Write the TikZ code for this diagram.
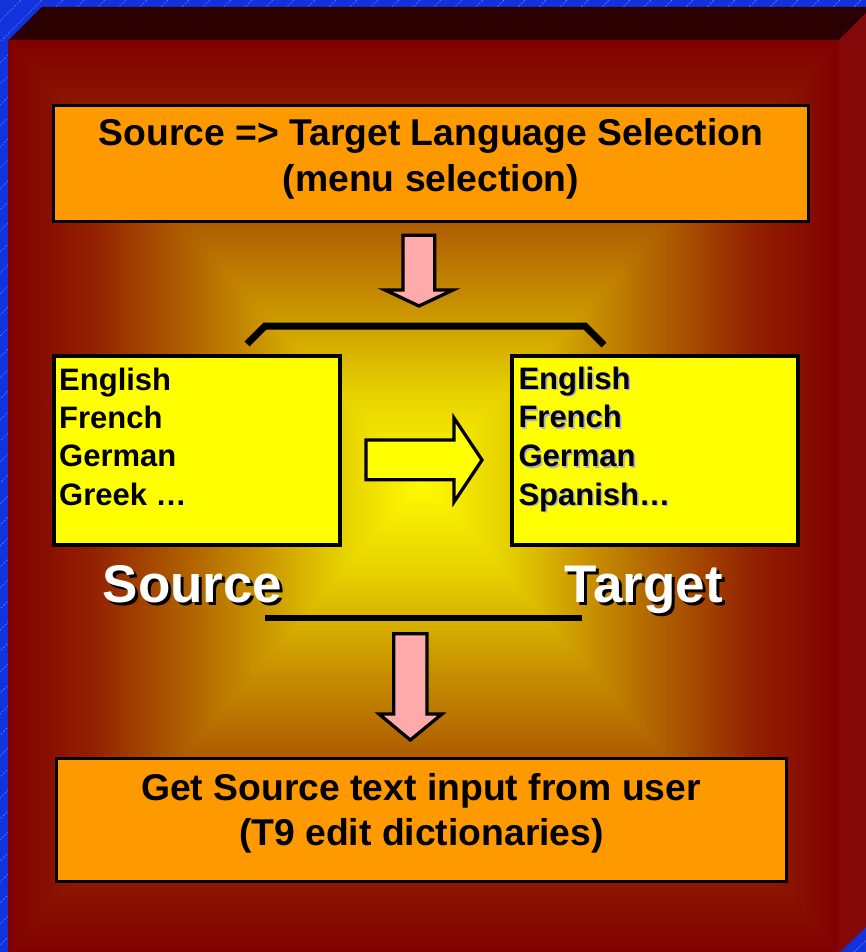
\documentclass[tikz,border=0pt]{standalone}
\usepackage{fontspec}
\setmainfont{Liberation Sans}

\definecolor{slideblue}{RGB}{18,50,220}
\definecolor{hatchblue}{RGB}{95,125,245}
\definecolor{bevtop}{RGB}{42,0,0}
\definecolor{bevside}{RGB}{132,8,8}
\definecolor{fc0}{RGB}{255,252,0}
\definecolor{fc1}{RGB}{230,208,0}
\definecolor{fc2}{RGB}{200,145,0}
\definecolor{fc3}{RGB}{172,88,0}
\definecolor{fc4}{RGB}{146,32,0}
\definecolor{fc5}{RGB}{128,0,0}
\definecolor{boxorange}{RGB}{255,153,0}
\definecolor{boxyellow}{RGB}{255,255,0}
\definecolor{arrowpink}{RGB}{255,170,170}
\definecolor{shadowgray}{RGB}{175,175,200}

% rectangular glow of the slide face, one quarter at a time
\pgfdeclareverticalshading{facefill}{100bp}{color(0bp)=(fc0); color(25bp)=(fc0); color(35bp)=(fc1); color(45bp)=(fc2); color(55bp)=(fc3); color(65bp)=(fc4); color(75bp)=(fc5); color(100bp)=(fc5)}
\pgfdeclareradialshading{faceglow}{\pgfpoint{0bp}{0bp}}{color(0bp)=(fc0); color(5bp)=(fc1); color(10bp)=(fc2); color(15bp)=(fc3); color(20bp)=(fc4); color(25bp)=(fc5); color(50bp)=(fc5)}

% text with a drop shadow behind it
\newcommand\shadowed[3]{\rlap{\hspace{#2}\raisebox{-#2}{\textcolor{#1}{#3}}}#3}

\tikzset{
  menubox/.style={draw, line width=3.3pt, fill=boxorange, inner sep=0pt},
  langbox/.style={draw, line width=4pt, fill=boxyellow, inner sep=0pt, minimum width=286pt, minimum height=189pt},
  boxtext/.style={font=\fontsize{37.3}{45}\selectfont\bfseries, inner sep=0pt, anchor=base},
  langtext/.style={font=\fontsize{31}{38}\selectfont\bfseries, inner sep=0pt, anchor=base west},
  bigtext/.style={font=\fontsize{53}{60}\selectfont\bfseries, inner sep=0pt, anchor=base, text=white},
  blockarrow/.style={draw, line width=3.3pt, line join=miter}
}

\begin{document}
\begin{tikzpicture}[x=1pt,y=-1pt]
\useasboundingbox (0,0) rectangle (866,952);

% blue slide background with faint hatching
\fill[slideblue] (0,0) rectangle (866,952);
\foreach \k in {0,21,...,1840}
  \draw[hatchblue, line width=0.7pt, dash pattern=on 2pt off 1.5pt] (\k-952,952) -- (\k,0);

% bevelled panel
\fill[bevtop] (8,41) -- (42,7) -- (866,7) -- (866,13) -- (838,41) -- cycle;
\fill[bevside] (838,41) -- (866,13) -- (866,927) -- (840,952) -- (838,952) -- cycle;
\shade[shading=faceglow] (8,41) rectangle (838,952);
\shade[shading=facefill, shading angle=0] (8,41) -- (838,41) -- (423,480) -- cycle;
\shade[shading=facefill, shading angle=180] (8,952) -- (838,952) -- (423,480) -- cycle;
\shade[shading=facefill, shading angle=90] (8,41) -- (8,952) -- (423,480) -- cycle;
\shade[shading=facefill, shading angle=-90] (838,41) -- (838,952) -- (423,480) -- cycle;

% top selection box
\node[menubox, minimum width=755pt, minimum height=116pt] (sel) at (431,163.5) {};
\node[boxtext] (selA) at (431,146) {Source => Target Language Selection};
\node[boxtext] (selB) at (431,191) {(menu selection)};

\draw[blockarrow, fill=arrowpink] (403,235.3) -- (434.7,235.3) -- (434.7,290) -- (453,290)
  -- (419,306) -- (385,290) -- (403,290) -- cycle;

\draw[line width=7pt] (247,344) -- (265,326) -- (585,326) -- (604,345);

% language lists
\node[langbox] (srcbox) at (196.7,450.4) {};
\foreach \lang [count=\n] in {English,French,German,Greek …}
  \node[langtext] (src\n) at (59,351.7+38.4*\n) {\lang};

\node[langbox] (tgtbox) at (655.3,450) {};
\foreach \lang [count=\n] in {English,French,German,Spanish…}
  \node[langtext] (tgt\n) at (518.3,350.7+38.6*\n) {\shadowed{shadowgray}{1.6pt}{\lang}};

\draw[blockarrow, fill=boxyellow] (366,440) -- (454,440) -- (454,418) -- (482,460)
  -- (454,502) -- (454,479.7) -- (366,479.7) -- cycle;

\node[bigtext] (srclab) at (192.5,602) {\shadowed{black}{3pt}{Source}};
\node[bigtext] (tgtlab) at (644,602) {\shadowed{black}{3pt}{Target}};

\draw[line width=6.5pt] (265,618) -- (582,618);

\draw[blockarrow, fill=arrowpink] (393.7,633.7) -- (427,633.7) -- (427,714) -- (442,714)
  -- (410.3,740) -- (379,714) -- (393.7,714) -- cycle;

% bottom input box
\node[menubox, minimum width=729.6pt, minimum height=122.6pt] (inp) at (421.5,820) {};
\node[boxtext] (inpA) at (421,800) {Get Source text input from user};
\node[boxtext] (inpB) at (421.5,845) {(T9 edit dictionaries)};
\end{tikzpicture}
\end{document}
